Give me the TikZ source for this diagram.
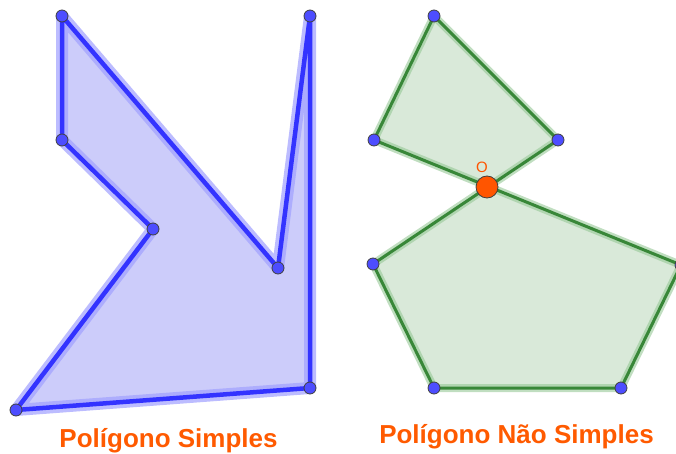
\documentclass[tikz,border=0pt]{standalone}
\usepackage{fontspec}
\setmainfont{Liberation Sans}
\begin{document}
\begin{tikzpicture}[x=1pt,y=-1pt,
  vpt/.style={circle,fill=ptblue,draw=black!75,line width=0.8pt,inner sep=0pt,minimum size=12pt},
  opt/.style={circle,fill=ptorange,draw=black!75,line width=0.8pt,inner sep=0pt,minimum size=22pt},
  caption/.style={anchor=base,text=capor,font=\bfseries\fontsize{26}{30}\selectfont,inner sep=0pt}]
\definecolor{ptblue}{RGB}{77,77,255}
\definecolor{lnblue}{RGB}{51,51,255}
\definecolor{fillblue}{RGB}{204,204,250}
\definecolor{haloblue}{RGB}{160,160,255}
\definecolor{lngreen}{RGB}{56,135,56}
\definecolor{fillgreen}{RGB}{217,233,217}
\definecolor{halogreen}{RGB}{150,200,150}
\definecolor{ptorange}{RGB}{255,85,0}
\definecolor{capor}{RGB}{255,90,0}
\useasboundingbox (0,0) rectangle (676,454);
\clip (0,0) rectangle (676,454);
% left polygon
\coordinate (A) at (62,16);
\coordinate (B) at (62,140);
\coordinate (C) at (153,229);
\coordinate (D) at (16,410);
\coordinate (E) at (310,388);
\coordinate (F) at (310,16);
\coordinate (G) at (278,268);
\fill[fillblue] (A) -- (B) -- (C) -- (D) -- (E) -- (F) -- (G) -- cycle;
\draw[haloblue,opacity=0.7,line width=12pt,line join=round] (A) -- (B) -- (C) -- (D) -- (E) -- (F) -- (G) -- cycle;
\draw[lnblue,line width=4.5pt,line join=round] (A) -- (B) -- (C) -- (D) -- (E) -- (F) -- (G) -- cycle;
\foreach \p in {A,B,C,D,E,F,G} \node[vpt] (n\p) at (\p) {};
% right polygon
\coordinate (P1) at (434,16);
\coordinate (P2) at (374,140);
\coordinate (P3) at (558,140);
\coordinate (P4) at (373,264);
\coordinate (P5) at (434,388);
\coordinate (P6) at (621,388);
\coordinate (P7) at (681,265);
\fill[fillgreen] (P1) -- (P3) -- (P4) -- (P5) -- (P6) -- (P7) -- (P2) -- cycle;
\draw[halogreen,opacity=0.6,line width=8pt,line join=round] (P1) -- (P3) -- (P4) -- (P5) -- (P6) -- (P7) -- (P2) -- cycle;
\draw[lngreen,line width=3pt,line join=round] (P1) -- (P3) -- (P4) -- (P5) -- (P6) -- (P7) -- (P2) -- cycle;
\foreach \p in {P1,P2,P3,P4,P5,P6,P7} \node[vpt] (n\p) at (\p) {};
\node[opt] (O) at (487,187) {};
\node[text=ptorange,font=\fontsize{15}{17}\selectfont,inner sep=0pt] (Olab) at (482,167) {O};
% captions
\node[caption] (cap1) at (168.5,447) {Polígono Simples};
\node[caption] (cap2) at (516.5,443) {Polígono Não Simples};
\end{tikzpicture}
\end{document}
